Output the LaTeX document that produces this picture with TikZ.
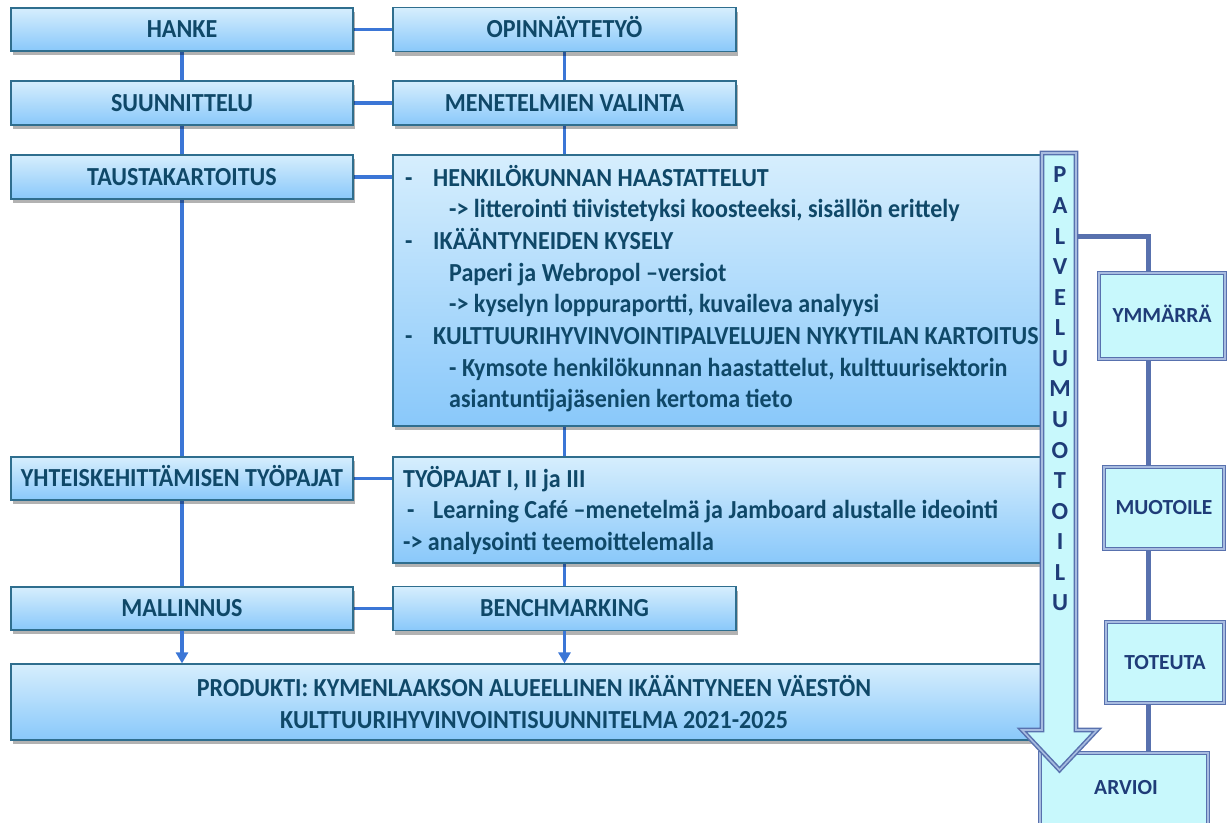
\documentclass[tikz,border=0pt]{standalone}
\usepackage{fontspec}
\setmainfont{Carlito}
\newfontfamily\condfont{Carlito}[FakeStretch=0.925]
\usetikzlibrary{shadows,arrows.meta,backgrounds}
\definecolor{gtop}{HTML}{D6EEFD}
\definecolor{gbot}{HTML}{89C8FA}
\definecolor{bordc}{HTML}{2F6E8E}
\definecolor{connc}{HTML}{3B76D6}
\definecolor{txtc}{HTML}{0F4868}
\definecolor{slate}{HTML}{5871AE}
\definecolor{slatel}{HTML}{A8BCE0}
\definecolor{cyanf}{HTML}{C8F8FC}
\definecolor{navy}{HTML}{1F3C78}
\newcommand\lblfont{\condfont\fontsize{26}{31.7}\selectfont\bfseries}
\newcommand\rlblfont{\fontsize{21.5}{25}\selectfont\bfseries}
\newcommand\plblfont{\fontsize{24.5}{30.57}\selectfont\bfseries}
\tikzset{
  box/.style={draw=bordc, line width=1.2pt, top color=gtop, bottom color=gbot,
    inner sep=0pt, font=\lblfont, text=txtc, text height=16.7pt, text depth=0pt,
    drop shadow={shadow xshift=1.5pt, shadow yshift=-4pt, opacity=0.3, fill=black}},
  conn/.style={draw=connc, line width=3.5pt},
  tip/.style={-{Triangle[length=11pt,width=12pt]}},
  rbox/.style={draw=slate, line width=1.5pt, double=slatel, double distance=1.6pt,
    fill=cyanf, inner sep=0pt, font=\rlblfont, text=navy, text height=13.8pt, text depth=0pt},
  rconn/.style={draw=slate, line width=5pt},
  txt/.style={font=\lblfont, text=txtc, inner sep=0pt, anchor=base west},
}
\begin{document}
\begin{tikzpicture}[x=1pt,y=-1pt]
\useasboundingbox (0,0) rectangle (1230,822);
% left column
\node[box, minimum width=342, minimum height=43] (hanke) at (182,29.5) {HANKE};
\node[box, minimum width=342, minimum height=44] (suun) at (182,103) {SUUNNITTELU};
\node[box, minimum width=342, minimum height=44] (taus) at (182,177) {TAUSTAKARTOITUS};
\node[box, minimum width=342, minimum height=43] (yht) at (182,478.5) {YHTEISKEHITTÄMISEN TYÖPAJAT};
\node[box, minimum width=342, minimum height=43] (mall) at (182,608.5) {MALLINNUS};
% right column
\node[box, minimum width=343, minimum height=44] (opin) at (564.5,29.5) {OPINNÄYTETYÖ};
\node[box, minimum width=343, minimum height=44] (men) at (564.5,103) {MENETELMIEN VALINTA};
\node[box, minimum width=650, minimum height=271] (big) at (718,290.5) {};
\node[box, minimum width=650, minimum height=106] (tyo) at (718,510) {};
\node[box, minimum width=343, minimum height=44] (bench) at (564.5,608.5) {BENCHMARKING};
\node[box, minimum width=1032, minimum height=76] (prod) at (527,702) {};
% big box text
\node[txt] (b1d) at (405,186) {-};
\node[txt] (b1) at (433,186) {HENKILÖKUNNAN HAASTATTELUT};
\node[txt] (b2) at (449,217.7) {-> litterointi tiivistetyksi koosteeksi, sisällön erittely};
\node[txt] (b3d) at (405,249.4) {-};
\node[txt] (b3) at (433,249.4) {IKÄÄNTYNEIDEN KYSELY};
\node[txt] (b4) at (449,281.1) {Paperi ja Webropol –versiot};
\node[txt] (b5) at (449,312.8) {-> kyselyn loppuraportti, kuvaileva analyysi};
\node[txt] (b6d) at (405,344.5) {-};
\node[txt] (b6) at (433,344.5) {KULTTUURIHYVINVOINTIPALVELUJEN NYKYTILAN KARTOITUS};
\node[txt] (b7) at (449,376.2) {- Kymsote henkilökunnan  haastattelut, kulttuurisektorin};
\node[txt] (b8) at (449,407.9) {asiantuntijajäsenien kertoma tieto};
% tyopajat text
\node[txt] (t1) at (403,487) {TYÖPAJAT I, II ja III};
\node[txt] (t2d) at (407,518.5) {-};
\node[txt] (t2) at (433,518.5) {Learning Café –menetelmä ja Jamboard alustalle ideointi};
\node[txt] (t3) at (403,550) {-> analysointi teemoittelemalla};
% produkti text
\node[txt, anchor=base] (p1) at (534,696) {PRODUKTI: KYMENLAAKSON ALUEELLINEN IKÄÄNTYNEEN VÄESTÖN};
\node[txt, anchor=base] (p2) at (534,728) {KULTTUURIHYVINVOINTISUUNNITELMA 2021-2025};
% connectors
\begin{scope}[on background layer]
\draw[conn] (hanke.east) -- (opin.west);
\draw[conn] (suun.east) -- (men.west);
\draw[conn] (taus.east) -- (taus.east -| big.west);
\draw[conn] (yht.east) -- (yht.east -| tyo.west);
\draw[conn] (mall.east) -- (bench.west);
\draw[conn] (hanke.south) -- (suun.north);
\draw[conn] (suun.south) -- (taus.north);
\draw[conn] (taus.south) -- (yht.north);
\draw[conn] (yht.south) -- (mall.north);
\draw[conn] (opin.south) -- (men.north);
\draw[conn] (men.south) -- (men.south |- big.north);
\draw[conn] (men.south |- big.south) -- (men.south |- tyo.north);
\draw[conn] (men.south |- tyo.south) -- (bench.north);
\end{scope}
\draw[conn, tip] (mall.south) -- (mall.south |- prod.north);
\draw[conn, tip] (bench.south) -- (bench.south |- prod.north);
% right side
\coordinate (am) at (1076,236);
\coordinate (cx) at (1148,0);
\node[rbox, minimum width=126, minimum height=86] (ymm) at (1162,316) {YMMÄRRÄ};
\node[rbox, minimum width=120, minimum height=82] (muo) at (1164,508) {MUOTOILE};
\node[rbox, minimum width=118, minimum height=81] (tot) at (1165,662.5) {TOTEUTA};
\node[rbox, minimum width=168, minimum height=72, text height=0pt] (arv) at (1124,789) {};
\node[font=\rlblfont, text=navy, inner sep=0pt, text height=13.8pt, text depth=0pt] (arvt) at (1126,788) {ARVIOI};
\begin{scope}[on background layer]
\draw[rconn] (am) -- (am -| cx) -- (ymm.north -| cx);
\draw[rconn] (ymm.south -| cx) -- (muo.north -| cx);
\draw[rconn] (muo.south -| cx) -- (tot.north -| cx);
\draw[rconn] (tot.south -| cx) -- (arv.north -| cx);
\end{scope}
% arrow
\draw[draw=slate, line width=1.5pt, double=slatel, double distance=1.6pt, fill=cyanf, line join=miter]
  (1042,153) -- (1076,153) -- (1076,730) -- (1097,730) -- (1059.5,770) -- (1022,730) -- (1042,730) -- cycle;
\node[font=\plblfont, text=navy, align=center, inner sep=0pt] (pal) at (1060,389)
  {P\\A\\L\\V\\E\\L\\U\\M\\U\\O\\T\\O\\I\\L\\U};
\end{tikzpicture}
\end{document}
